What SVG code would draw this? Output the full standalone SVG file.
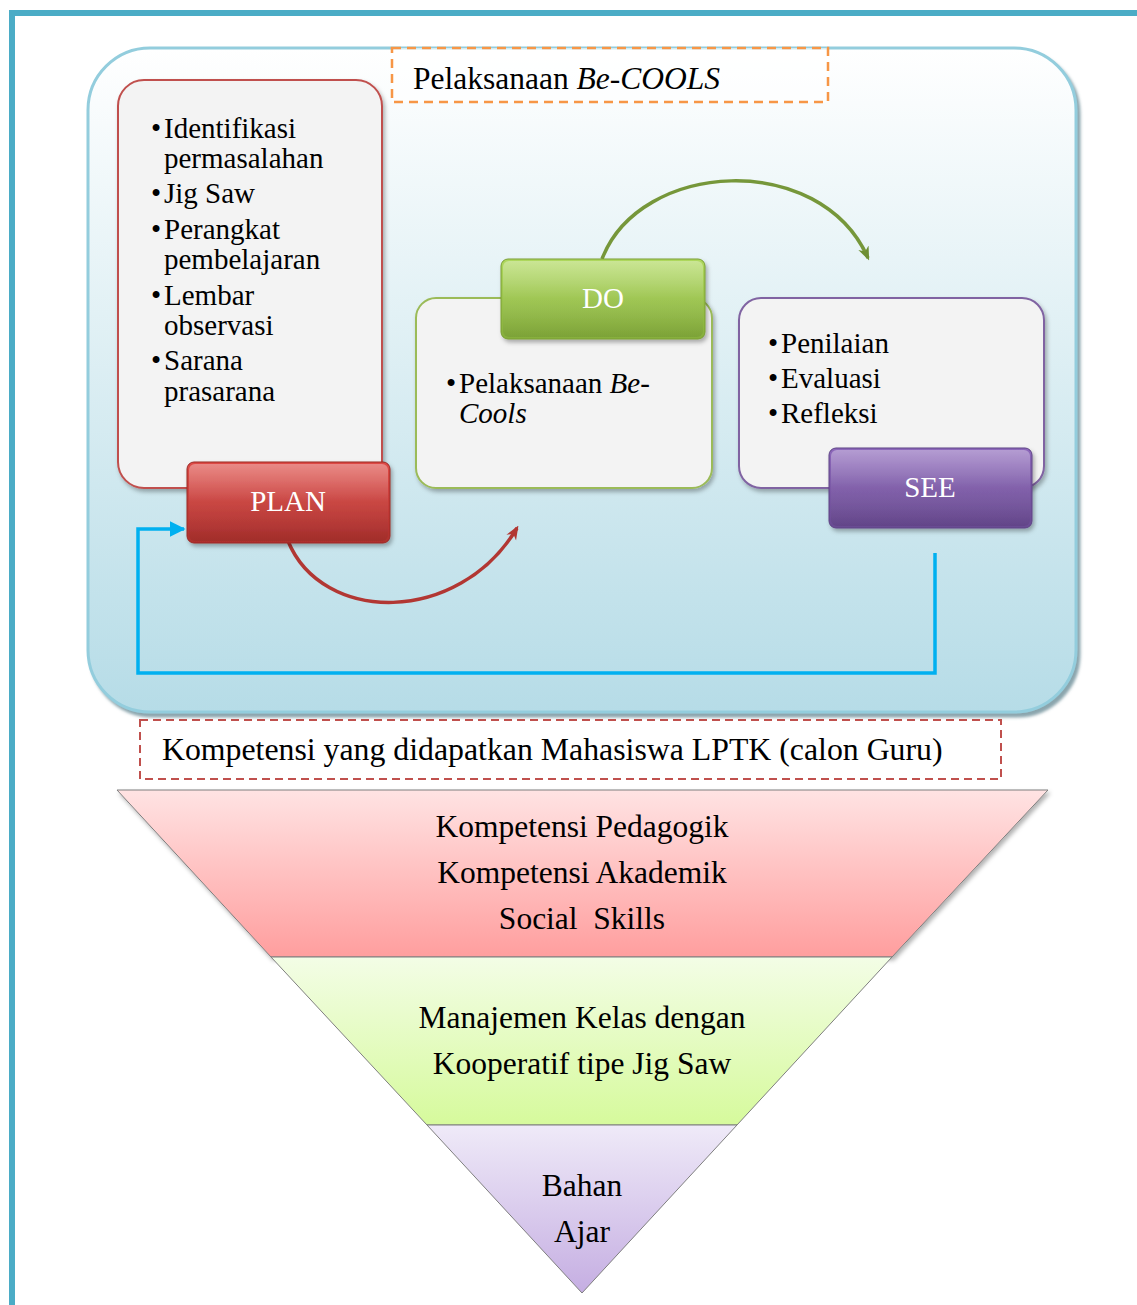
<svg xmlns="http://www.w3.org/2000/svg" width="1137" height="1305" viewBox="0 0 1137 1305">
<style>
.t{font-family:"Liberation Serif","Times New Roman",serif;fill:#000}
.b{font-size:29px}
.f{font-size:31.5px;text-anchor:middle}
.w{font-family:"Liberation Serif","Times New Roman",serif;font-size:29px;fill:#fff;text-anchor:middle}
.card{fill:#F3F3F3;stroke-width:2;filter:url(#sh)}
</style>
<defs>
<linearGradient id="bg" x1="0" y1="0" x2="0" y2="1">
<stop offset="0" stop-color="#FFFFFF"/><stop offset="0.4" stop-color="#E2F1F5"/><stop offset="1" stop-color="#B6DCE7"/>
</linearGradient>
<linearGradient id="gr" x1="0" y1="0" x2="0" y2="1">
<stop offset="0" stop-color="#DE4A45"/><stop offset="1" stop-color="#AE2F2C"/>
</linearGradient>
<linearGradient id="gg" x1="0" y1="0" x2="0" y2="1">
<stop offset="0" stop-color="#AED85C"/><stop offset="1" stop-color="#86AF3B"/>
</linearGradient>
<linearGradient id="gp" x1="0" y1="0" x2="0" y2="1">
<stop offset="0" stop-color="#8C67BA"/><stop offset="1" stop-color="#6A4B93"/>
</linearGradient>
<linearGradient id="fr" x1="0" y1="0" x2="0" y2="1">
<stop offset="0" stop-color="#FFE3E3"/><stop offset="1" stop-color="#FF9E9E"/>
</linearGradient>
<linearGradient id="fg" x1="0" y1="0" x2="0" y2="1">
<stop offset="0" stop-color="#F3FDE6"/><stop offset="1" stop-color="#D6FA9C"/>
</linearGradient>
<linearGradient id="fp" x1="0" y1="0" x2="0" y2="1">
<stop offset="0" stop-color="#EFEAF8"/><stop offset="1" stop-color="#C5AEE2"/>
</linearGradient>
<linearGradient id="hl" x1="0" y1="0" x2="0" y2="1">
<stop offset="0" stop-color="#fff" stop-opacity="0.35"/><stop offset="0.5" stop-color="#fff" stop-opacity="0.05"/><stop offset="1" stop-color="#000" stop-opacity="0.08"/>
</linearGradient>
<filter id="sh" x="-10%" y="-10%" width="130%" height="130%">
<feDropShadow dx="2" dy="3" stdDeviation="2" flood-color="#000" flood-opacity="0.3"/>
</filter>
<filter id="sh2" x="-5%" y="-5%" width="110%" height="115%">
<feDropShadow dx="3" dy="4" stdDeviation="1.5" flood-color="#5a7f8a" flood-opacity="0.7"/>
</filter>
<marker id="ab" viewBox="0 0 10 10" refX="9" refY="5" markerWidth="16" markerHeight="16" markerUnits="userSpaceOnUse" orient="auto">
<path d="M0,0 L10,5 L0,10 Z" fill="#00B0F0"/>
</marker>
<marker id="ar" viewBox="0 0 10 10" refX="8" refY="5" markerWidth="14" markerHeight="14" markerUnits="userSpaceOnUse" orient="auto">
<path d="M0,1 L10,5 L0,9 L3,5 Z" fill="#B23733"/>
</marker>
<marker id="ag" viewBox="0 0 10 10" refX="8" refY="5" markerWidth="14" markerHeight="14" markerUnits="userSpaceOnUse" orient="auto">
<path d="M0,1 L10,5 L0,9 L3,5 Z" fill="#6E8F33"/>
</marker>
</defs>

<rect width="1137" height="1305" fill="#fff"/>
<g id="frame" fill="none" stroke="#4BACC6" stroke-width="6">
<path d="M12,1305 V13 H1137"/>
</g>

<g id="container">
<rect x="88" y="48" width="988" height="664" rx="62" fill="url(#bg)" stroke="#93CDDD" stroke-width="3" filter="url(#sh2)"/>
</g>

<g id="title">
<rect x="392" y="48" width="436" height="54" fill="#fff" fill-opacity="0.6" stroke="#F79646" stroke-width="2.5" stroke-dasharray="9,6"/>
<text class="t" x="413" y="89" font-size="31.5">Pelaksanaan <tspan font-style="italic">Be-COOLS</tspan></text>
</g>

<g id="plan-card">
<rect class="card" x="118" y="80" width="264" height="408" rx="26" stroke="#C0504D"/>
<text class="t b">
<tspan x="151" y="138">•</tspan><tspan x="164" y="138">Identifikasi</tspan>
<tspan x="164" y="168">permasalahan</tspan>
<tspan x="151" y="203">•</tspan><tspan x="164" y="203">Jig Saw</tspan>
<tspan x="151" y="239">•</tspan><tspan x="164" y="239">Perangkat</tspan>
<tspan x="164" y="269">pembelajaran</tspan>
<tspan x="151" y="305">•</tspan><tspan x="164" y="305">Lembar</tspan>
<tspan x="164" y="335">observasi</tspan>
<tspan x="151" y="370">•</tspan><tspan x="164" y="370">Sarana</tspan>
<tspan x="164" y="401">prasarana</tspan>
</text>
</g>

<g id="do-card">
<rect class="card" x="416" y="298" width="296" height="190" rx="20" stroke="#9BBB59"/>
<text class="t b">
<tspan x="446" y="393">•</tspan><tspan x="459" y="393">Pelaksanaan <tspan font-style="italic">Be-</tspan></tspan>
<tspan x="459" y="423" font-style="italic">Cools</tspan>
</text>
</g>

<g id="see-card">
<rect class="card" x="739" y="298" width="305" height="190" rx="22" stroke="#8064A2"/>
<text class="t b">
<tspan x="768" y="353">•</tspan><tspan x="781" y="353">Penilaian</tspan>
<tspan x="768" y="388">•</tspan><tspan x="781" y="388">Evaluasi</tspan>
<tspan x="768" y="423">•</tspan><tspan x="781" y="423">Refleksi</tspan>
</text>
</g>

<g id="connectors" fill="none">
<path d="M935,553 V673 H138 V529 H184" stroke="#00B0F0" stroke-width="3.5" marker-end="url(#ab)"/>
<path d="M288,541 C322,624 458,626 517,528" stroke="#B23733" stroke-width="3.5" marker-end="url(#ar)"/>
<path d="M602,259 C640,160 820,150 868,258" stroke="#76973A" stroke-width="3.5" marker-end="url(#ag)"/>
</g>

<g id="plan">
<rect x="187" y="462" width="203" height="81" rx="7" fill="url(#gr)" stroke="#9A2A27" stroke-width="1" filter="url(#sh)"/>
<rect x="189" y="464" width="199" height="77" rx="6" fill="url(#hl)"/>
<text class="w" x="288" y="511">PLAN</text>
</g>

<g id="do">
<rect x="501" y="259" width="204" height="80" rx="7" fill="url(#gg)" stroke="#7A9E35" stroke-width="1" filter="url(#sh)"/>
<rect x="503" y="261" width="200" height="76" rx="6" fill="url(#hl)"/>
<text class="w" x="603" y="308">DO</text>
</g>

<g id="see">
<rect x="829" y="448" width="203" height="80" rx="7" fill="url(#gp)" stroke="#5E4485" stroke-width="1" filter="url(#sh)"/>
<rect x="831" y="450" width="199" height="76" rx="6" fill="url(#hl)"/>
<text class="w" x="930" y="497">SEE</text>
</g>

<g id="competence">
<rect x="140" y="720" width="861" height="59" fill="#fff" stroke="#C0504D" stroke-width="2" stroke-dasharray="8,5"/>
<text class="t" x="162" y="760" font-size="31.8">Kompetensi yang didapatkan Mahasiswa LPTK (calon Guru)</text>
</g>

<g id="funnel-top">
<polygon points="117,790 1048,790 892,957 271,957" fill="url(#fr)" stroke="#7F7F7F" stroke-width="1" filter="url(#sh)"/>
<text class="t f" x="582" y="837">Kompetensi Pedagogik</text>
<text class="t f" x="582" y="883">Kompetensi Akademik</text>
<text class="t f" x="582" y="929" xml:space="preserve">Social  Skills</text>
</g>

<g id="funnel-mid">
<polygon points="271,957 892,957 737,1125 427,1125" fill="url(#fg)" stroke="#7F7F7F" stroke-width="1"/>
<text class="t f" x="582" y="1028">Manajemen Kelas dengan</text>
<text class="t f" x="582" y="1074">Kooperatif tipe Jig Saw</text>
</g>

<g id="funnel-bottom">
<polygon points="427,1125 737,1125 582,1293" fill="url(#fp)" stroke="#7F7F7F" stroke-width="1"/>
<text class="t f" x="582" y="1196">Bahan</text>
<text class="t f" x="582" y="1242">Ajar</text>
</g>
</svg>
